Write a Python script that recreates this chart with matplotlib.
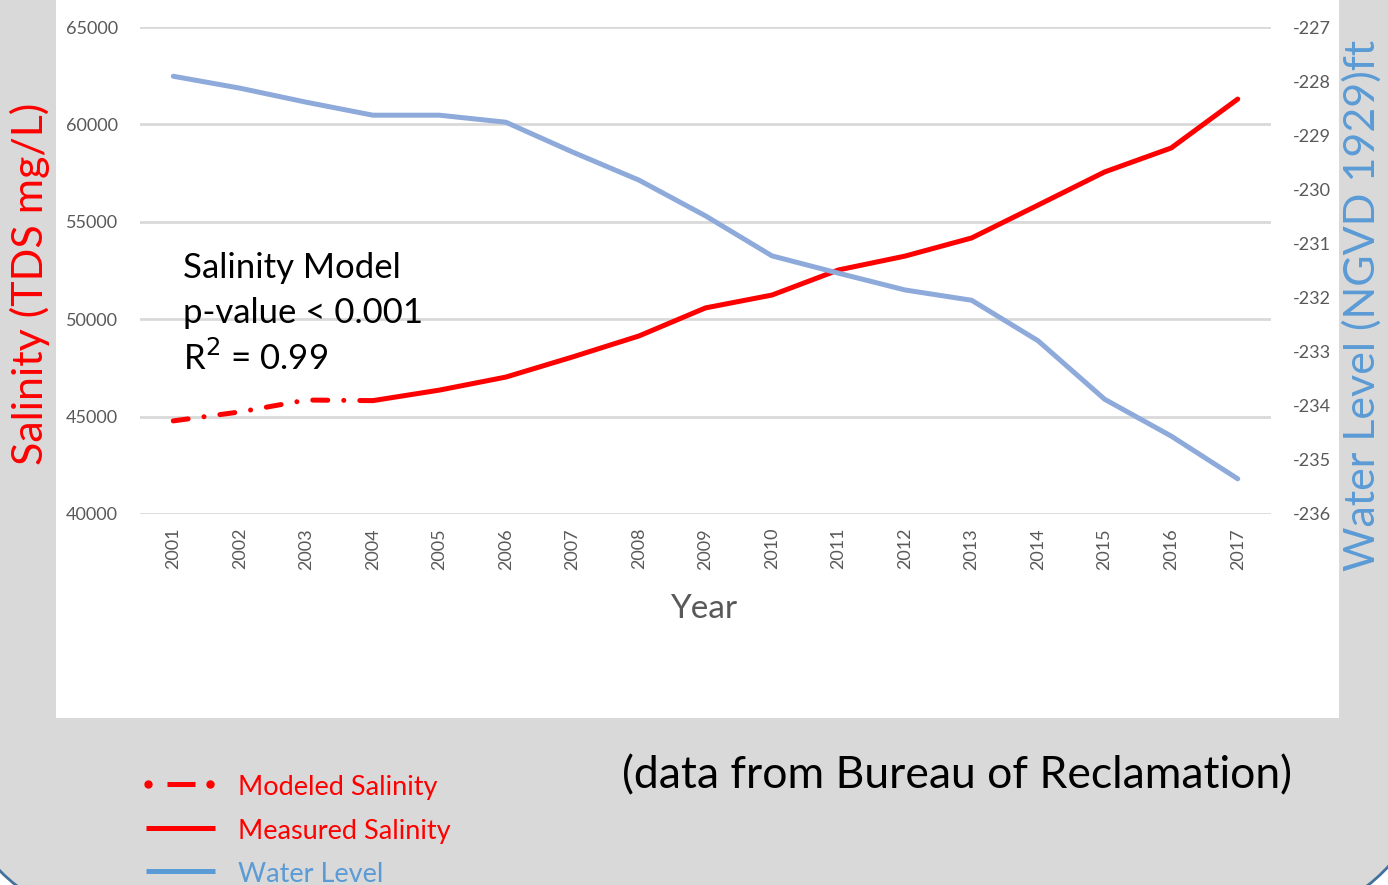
import matplotlib as mpl
mpl.use('Agg')
import matplotlib.pyplot as plt
from matplotlib.patches import FancyBboxPatch, Rectangle
from matplotlib.lines import Line2D
from matplotlib.transforms import IdentityTransform

plt.rcParams['font.family'] = ['Lato', 'DejaVu Sans']
plt.rcParams['axes.unicode_minus'] = False

years = [str(y) for y in range(2001, 2018)]
salinity = [44780, 45240, 45850, 45820, 46360, 47030, 48060, 49140, 50580,
            51240, 52530, 53240, 54170, 55860, 57560, 58790, 61300]
water_level = [-227.91, -228.13, -228.39, -228.63, -228.63, -228.76, -229.31,
               -229.83, -230.49, -231.23, -231.55, -231.86, -232.05, -232.80,
               -233.88, -234.56, -235.35]
n_modeled = 4  # 2001-2004 are modeled values

RED = '#ff0000'
BLUE_LINE = '#8eaadb'
BLUE_TXT = '#5b9bd5'
GREY_TXT = '#595959'
GRID = '#d9d9d9'
BG = '#d9d9d9'

W, H = 1388, 885
fig = plt.figure(figsize=(W / 100, H / 100), dpi=100, facecolor='white')

# rounded background panel (corners visible at the bottom)
bg = FancyBboxPatch((-62, -49), 1508, 1100,
                    boxstyle='round,pad=0,rounding_size=250',
                    facecolor=BG, edgecolor='#41719c', linewidth=2,
                    transform=IdentityTransform(), zorder=0)
fig.patches.append(bg)
# white chart area
fig.patches.append(Rectangle((56 / W, 1 - 718 / H), (1339 - 56) / W, 718 / H,
                             transform=fig.transFigure, facecolor='white',
                             edgecolor='none', zorder=1))

ax = fig.add_axes([140 / W, 1 - 514 / H, (1271 - 140) / W, (514 - 27) / H])
ax.set_facecolor('none')
ax.set_zorder(2)
x = list(range(len(years)))
dashdot = (0, (3, 3.2, 0.01, 3.2))
ax.plot(x[:n_modeled], salinity[:n_modeled], color=RED, lw=3.6,
        linestyle=dashdot, dash_capstyle='round', zorder=3)
ax.plot(x[n_modeled - 1:], salinity[n_modeled - 1:], color=RED, lw=3.6,
        solid_capstyle='round', zorder=3)
ax.set_ylim(40000, 65000)
ax.set_yticks(range(40000, 65001, 5000))
ax.set_xlim(-0.5, len(years) - 0.5)
ax.set_xticks(x)
ax.set_xticklabels(years, rotation=90)
ax.grid(axis='y', color=GRID, lw=2)
ax.set_axisbelow(True)
for s in ax.spines.values():
    s.set_visible(False)
ax.tick_params(length=0, labelsize=13, labelcolor=GREY_TXT, pad=16)
ax.tick_params(axis='x', pad=10)

ax2 = ax.twinx()
ax2.plot(x, water_level, color=BLUE_LINE, lw=3.6, solid_capstyle='round',
         zorder=2)
ax2.set_ylim(-236, -227)
ax2.set_yticks(range(-236, -226))
for s in ax2.spines.values():
    s.set_visible(False)
ax2.tick_params(length=0, labelsize=13, labelcolor=GREY_TXT, pad=16)

# axis titles
fig.text(30 / W, 1 - 284 / H, 'Salinity (TDS mg/L)', color=RED, fontsize=31,
         rotation=90, ha='center', va='center', zorder=5)
fig.text(1362 / W, 1 - 305 / H, 'Water Level (NGVD 1929)ft', color=BLUE_TXT,
         fontsize=31, rotation=90, ha='center', va='center', zorder=5)
fig.text(704 / W, 1 - 609 / H, 'Year', color=GREY_TXT, fontsize=24,
         ha='center', va='center', zorder=5)

# model annotation
for i, s in enumerate(['Salinity Model', 'p-value < 0.001', r'R$^2$ = 0.99']):
    fig.text(183 / W, 1 - (268 + 45 * i) / H, s, fontsize=25, color='black',
             ha='left', va='center', zorder=5)

fig.text(957 / W, 1 - 776 / H, '(data from Bureau of Reclamation)',
         fontsize=32, color='black', ha='center', va='center', zorder=5)

# legend
leg = [('Modeled Salinity', RED, 784),
       ('Measured Salinity', RED, 828),
       ('Water Level', BLUE_TXT, 871)]
for label, c, yp in leg:
    yf = 1 - yp / H
    if label == 'Modeled Salinity':
        fig.lines.append(Line2D([148 / W, 210 / W], [yf, yf], linestyle='none',
                                marker='o', markersize=5, color=c,
                                transform=fig.transFigure, zorder=5))
        fig.lines.append(Line2D([167 / W, 195 / W], [yf, yf], lw=3.6, color=c,
                                solid_capstyle='butt',
                                transform=fig.transFigure, zorder=5))
    else:
        fig.lines.append(Line2D([146 / W, 215 / W], [yf, yf], lw=3.6, color=c,
                                solid_capstyle='butt',
                                transform=fig.transFigure, zorder=5))
    fig.text(238 / W, yf - 3 / H, label, color=c, fontsize=19.5,
             ha='left', va='center', zorder=5)

fig.savefig('out.png', dpi=100, facecolor='white')
